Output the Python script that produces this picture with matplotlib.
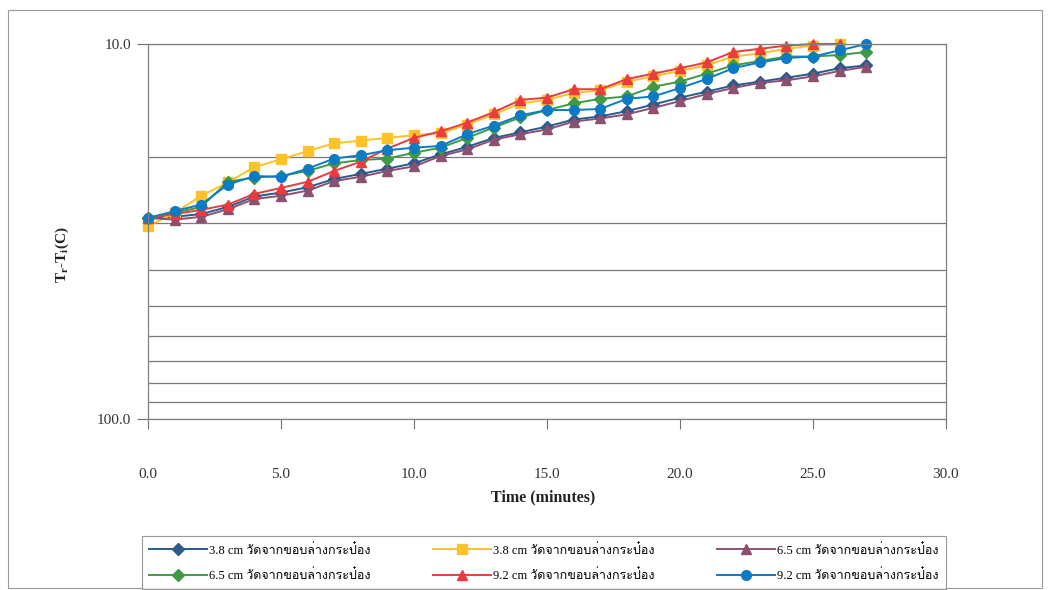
import matplotlib
matplotlib.use("Agg")
import numpy as np
import matplotlib.pyplot as plt
from matplotlib import font_manager
from matplotlib.ft2font import FT2Font
from matplotlib.lines import Line2D
from matplotlib.patches import Rectangle

# time axis (minutes)
time = list(range(28))

# temperature difference Tr - Ti (C) at each position
t38_a = [29.1, 28.9, 28.4, 27.2, 25.5, 24.9, 24.1, 22.9, 22.2, 21.5, 20.8, 19.7, 18.8, 17.8,
         17.2, 16.6, 15.9, 15.6, 15.1, 14.5, 13.9, 13.4, 12.9, 12.6, 12.3, 12.0, 11.6, 11.4]
t38_b = [30.6, 28.2, 25.4, 23.4, 21.3, 20.3, 19.3, 18.4, 18.1, 17.8, 17.5, 17.3, 16.4, 15.4,
         14.4, 14.1, 13.5, 13.3, 12.6, 12.2, 11.8, 11.4, 10.8, 10.6, 10.3, 10.1, 10.0, np.nan]
t65_a = [29.1, 29.4, 28.9, 27.6, 25.9, 25.4, 24.6, 23.2, 22.6, 21.8, 21.2, 19.9, 19.1, 18.0,
         17.4, 16.9, 16.1, 15.8, 15.4, 14.8, 14.2, 13.6, 13.1, 12.7, 12.5, 12.2, 11.8, 11.5]
t65_b = [29.1, 28.2, 27.2, 23.3, 22.7, 22.5, 21.8, 20.8, 20.4, 20.2, 19.5, 18.9, 17.8, 16.7,
         15.7, 15.0, 14.4, 14.0, 13.8, 13.0, 12.6, 12.0, 11.4, 11.1, 10.8, 10.8, 10.7, 10.5]
t92_a = [29.1, 28.4, 27.7, 26.8, 25.1, 24.2, 23.3, 21.8, 20.6, 19.0, 17.8, 17.1, 16.2, 15.2,
         14.1, 13.9, 13.2, 13.2, 12.4, 12.0, 11.6, 11.2, 10.5, 10.3, 10.1, 10.0, 10.0, np.nan]
t92_b = [29.1, 27.9, 26.8, 23.7, 22.5, 22.6, 21.5, 20.2, 19.8, 19.2, 18.9, 18.7, 17.4, 16.5,
         15.5, 15.0, 15.0, 14.9, 14.0, 13.8, 13.1, 12.4, 11.6, 11.2, 10.9, 10.8, 10.4, 10.0]

suffix = " cm วัดจากขอบล่างกระป๋อง"
labels = ["3.8" + suffix, "3.8" + suffix, "6.5" + suffix,
          "6.5" + suffix, "9.2" + suffix, "9.2" + suffix]
series = [t38_a, t38_b, t65_a, t65_b, t92_a, t92_b]
colors = ["#2b5b8c", "#fdc22a", "#8c5070", "#3f9a45", "#ec3b3f", "#0d7bc4"]
markers = ["D", "s", "^", "D", "^", "o"]
msizes = [6, 7, 7, 6, 7, 7]


def thai_family():
    # first installed family that actually has Thai glyphs
    for f in font_manager.fontManager.ttflist:
        try:
            if 0x0E01 in FT2Font(f.fname).get_charmap():
                return f.name
        except Exception:
            pass
    return None


serif = "Liberation Serif"
th = thai_family()
leg_family = [serif] + ([th] if th else []) + ["DejaVu Sans"]

fig = plt.figure(figsize=(10.49, 5.9), dpi=100)
fig.patches.append(Rectangle((8 / 1049, 2 / 590), 1034 / 1049, 578 / 590, transform=fig.transFigure,
                             fill=False, edgecolor="#9a9a9a", linewidth=0.8))

ax = fig.add_axes([148 / 1049, 1 - 419 / 590, 798 / 1049, 375 / 590])
for y, c, m, ms in zip(series, colors, markers, msizes):
    ax.plot(time, y, color=c, marker=m, markersize=ms, linewidth=1.4, clip_on=False)

ax.set_yscale("log")
ax.set_ylim(100, 10)
ax.set_yticks([10, 100])
ax.set_yticklabels(["10.0", "100.0"])
ax.yaxis.set_minor_locator(matplotlib.ticker.FixedLocator([20, 30, 40, 50, 60, 70, 80, 90]))
ax.yaxis.set_minor_formatter(matplotlib.ticker.NullFormatter())
ax.tick_params(axis="y", which="minor", length=0)
ax.tick_params(axis="y", which="major", length=8, color="#707070", pad=4)
ax.grid(True, axis="y", which="both", color="#7a7a7a", linewidth=0.9)

ax.set_xlim(0, 30)
ax.set_xticks(np.arange(0, 31, 5))
ax.set_xticklabels(["%.1f" % v for v in np.arange(0, 31, 5)])
ax.tick_params(axis="x", length=7, color="#707070", pad=28)

for lab in ax.get_xticklabels() + ax.get_yticklabels():
    lab.set_fontfamily(serif)
    lab.set_fontsize(11)
    lab.set_color("#333333")

for s in ["left", "right", "bottom", "top"]:
    ax.spines[s].set_color("#808080")
    ax.spines[s].set_linewidth(0.9)

fig.text(543 / 1049, 1 - 497 / 590, "Time (minutes)", ha="center", va="center",
         fontsize=11.5, fontweight="bold", family=serif, color="#222222")
fig.text(62 / 1049, 1 - 255 / 590, r"T$_\mathregular{r}$-T$_\mathregular{i}$(C)", ha="center",
         va="center", rotation=90, fontsize=11, fontweight="bold", family=serif, color="#222222")

# legend, three columns filled row by row
order = [0, 3, 1, 4, 2, 5]
handles = [Line2D([], [], color=colors[i], marker=markers[i], markersize=msizes[i], linewidth=1.4)
           for i in order]
leg = fig.legend(handles, [labels[i] for i in order], ncol=3, loc="upper center",
                 bbox_to_anchor=(544 / 1049, 1 - 530 / 590), frameon=True, fancybox=False,
                 edgecolor="#808080", handlelength=4.6, columnspacing=5.0, handletextpad=0.2,
                 borderpad=0.6, labelspacing=1.0, prop={"family": leg_family, "size": 9})
leg.get_frame().set_linewidth(0.8)

fig.savefig("out.png", dpi=100)
